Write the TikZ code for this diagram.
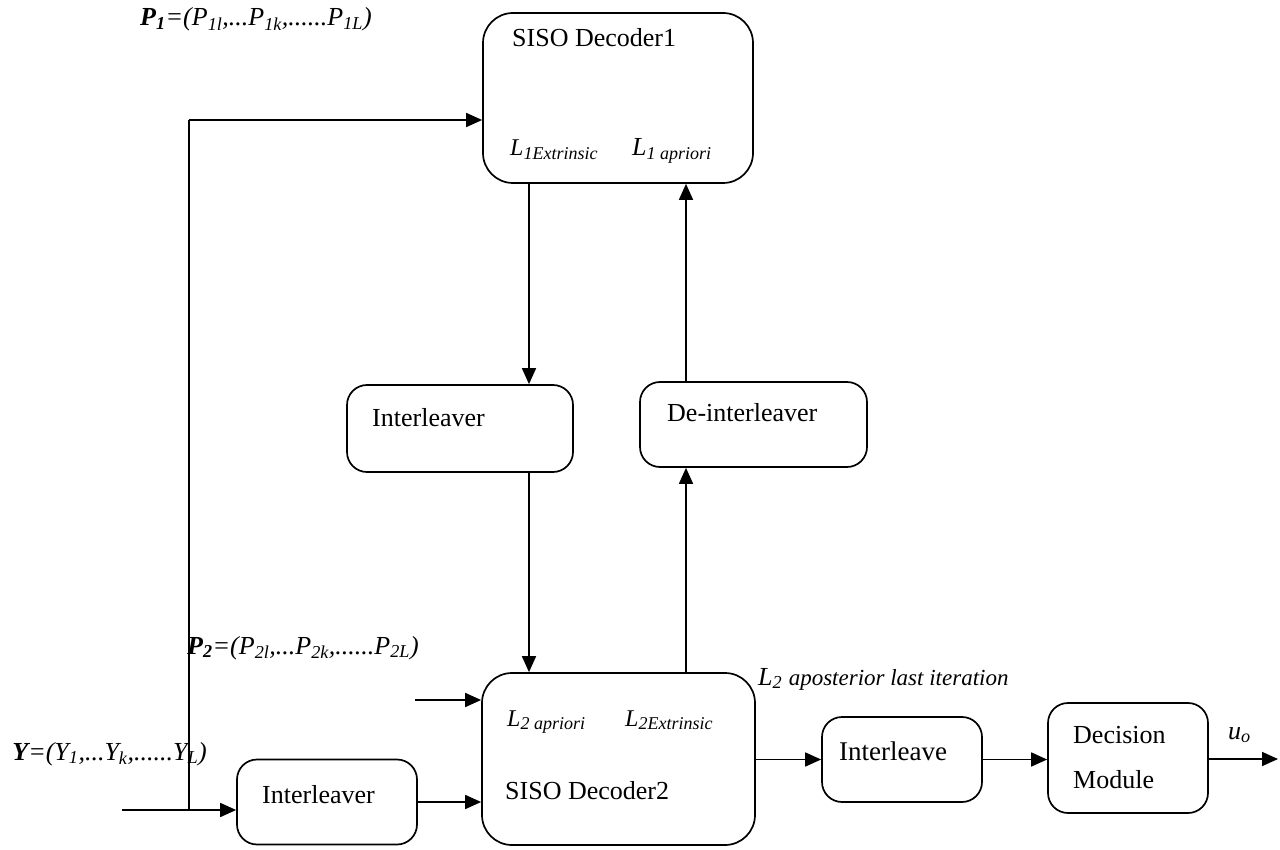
\documentclass[tikz,border=0pt]{standalone}
\usepackage{fontspec}
\setmainfont{Liberation Serif}
\usetikzlibrary{arrows.meta}
\newcommand\fsz[1]{\fontsize{#1}{#1}\selectfont}
\newcommand\lsub[1]{\textsubscript{#1}}
\begin{document}
\begin{tikzpicture}[x=1pt,y=-1pt,
  blk/.style={draw, line width=1.7pt, rounded corners=20pt, inner sep=0pt},
  arr/.style={line width=1.7pt, -{Triangle[length=16pt,width=14pt]}},
  wire/.style={line width=1.7pt},
  txt/.style={inner sep=0pt, anchor=base west, font=\fsz{26}},
  itx/.style={inner sep=0pt, anchor=base west, font=\fsz{26}\itshape},
]
\useasboundingbox (0,0) rectangle (1280,850);

% blocks
\node[blk, rounded corners=30pt, minimum width=270pt, minimum height=170pt] (dec1) at (618,98) {};
\node[blk, minimum width=226pt, minimum height=87pt] (il1) at (460,428.5) {};
\node[blk, minimum width=227pt, minimum height=85pt] (dil) at (753.5,424.5) {};
\node[blk, rounded corners=30pt, minimum width=273pt, minimum height=172pt] (dec2) at (618.5,759) {};
\node[blk, minimum width=180pt, minimum height=85pt] (il0) at (327,802) {};
\node[blk, minimum width=160pt, minimum height=85pt] (ilv) at (902,759.5) {};
\node[blk, minimum width=160pt, minimum height=110pt] (dm) at (1128,758) {};

% helper points
\coordinate (yin) at (122,810);
\coordinate (br) at (189,810);
\coordinate (c1) at (189,120);
\coordinate (p2s) at (415,700);
\coordinate (colA) at (529,0);
\coordinate (colB) at (686,0);
\coordinate (out) at (1278,759);

% connectors
\draw[arr] (yin) -- (il0.west |- yin);
\draw[wire] (br) -- (c1);
\draw[arr] (c1) -- (c1 -| dec1.west);
\draw[arr] (il0.east) -- (il0.east -| dec2.west);
\draw[arr] (p2s) -- (p2s -| dec2.west);
\draw[arr] (dec1.south -| colA) -- (il1.north -| colA);
\draw[arr] (il1.south -| colA) -- (dec2.north -| colA);
\draw[arr] (dec2.north -| colB) -- (dil.south -| colB);
\draw[arr] (dil.north -| colB) -- (dec1.south -| colB);
\draw[arr] (ilv.west -| dec2.east) -- (ilv.west);
\draw[arr] (ilv.east) -- (ilv.east -| dm.west);
\draw[arr] (dm.east |- out) -- (out);

% texts
\node[itx] (p1lbl) at (140,26) {\textbf{P}\lsub{\textbf{1}}=(P\lsub{1l},...P\lsub{1k},......P\lsub{1L})};
\node[txt] (t1) at (512,47) {SISO Decoder1};
\node[itx] (t1e) at (510,156) {\fsz{24}L\lsub{\fsz{18}1Extrinsic}};
\node[itx] (t1a) at (632,156) {\fsz{26}L\lsub{\fsz{18}1 apriori}};
\node[txt] (t2) at (372,426) {Interleaver};
\node[txt] (t3) at (667,421) {De-interleaver};
\node[itx] (p2lbl) at (187,654) {\textbf{P}\lsub{\textbf{2}}=(P\lsub{2l},...P\lsub{2k},......P\lsub{2L})};
\node[itx] (l2post) at (758,685) {\fsz{26}L\lsub{2} \fsz{23}aposterior last iteration};
\node[itx] (t4a) at (507,726) {\fsz{24}L\lsub{\fsz{18}2 apriori}};
\node[itx] (t4e) at (625,726) {\fsz{24}L\lsub{\fsz{18}2Extrinsic}};
\node[txt] (t4) at (505,799) {SISO Decoder2};
\node[itx, anchor=base east] (ylbl) at (207,760) {\textbf{Y}=(Y\lsub{1},...Y\lsub{k},......Y\lsub{L})};
\node[txt] (t5) at (262,803) {Interleaver};
\node[txt, font=\fsz{27}] (t6) at (839,760) {Interleave};
\node[txt] (t7) at (1073,743) {Decision};
\node[txt] (t8) at (1073,788) {Module};
\node[itx] (uo) at (1228,739) {u\lsub{o}};
\end{tikzpicture}
\end{document}
